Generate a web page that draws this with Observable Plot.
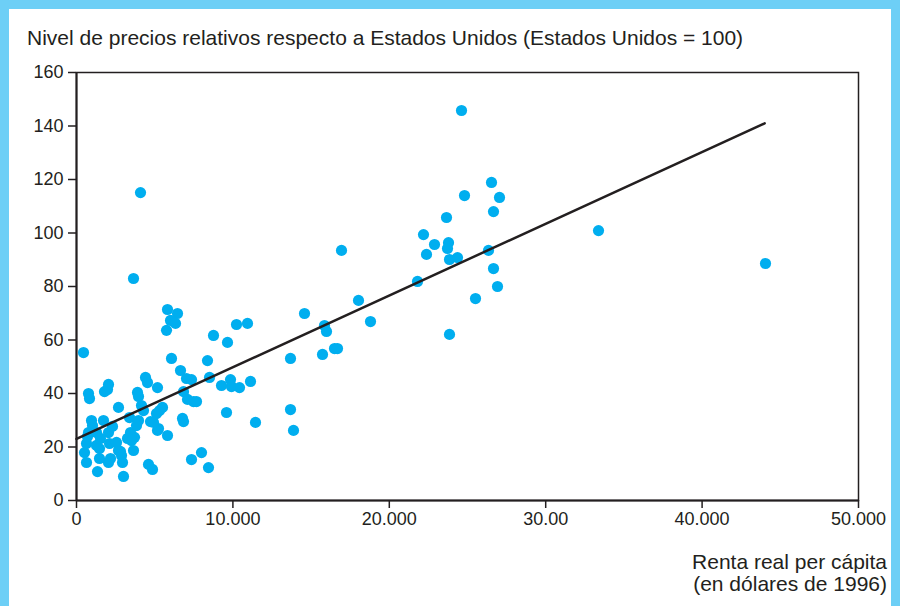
<!DOCTYPE html>
<html>
<head>
<meta charset="utf-8">
<script src="https://cdn.jsdelivr.net/npm/d3@7"></script>
<script src="https://cdn.jsdelivr.net/npm/@observablehq/plot@0.6"></script>
<style>
  html, body { margin: 0; padding: 0; background: #fff; }
  #wrap { position: relative; width: 900px; height: 606px; background: #6dcff6; overflow: hidden;
          font-family: "Liberation Sans", Arial, Helvetica, sans-serif; color: #231f20; }
  #inner { position: absolute; left: 9px; top: 9px; right: 9px; bottom: 0; background: #fff; }
  #title { position: absolute; left: 27px; top: 27px; font-size: 21px; line-height: 21px; white-space: nowrap; }
  #chart { position: absolute; left: 0; top: 0; }
  #xlabel { position: absolute; right: 13px; top: 551px; font-size: 21px; line-height: 22px; text-align: right; white-space: nowrap; }
</style>
</head>
<body>
<div id="wrap">
  <div id="inner"></div>
  <div id="chart"></div>
  <div id="title"></div>
  <div id="xlabel"></div>
</div>
<script>
const titleText = "Nivel de precios relativos respecto a Estados Unidos (Estados Unidos = 100)";
const xLabelLines = ["Renta real per cápita", "(en dólares de 1996)"];

// Real per-capita income (1996 US$)
const income = [
  24617, 26535, 24809, 27047, 26663, 23658, 22187, 22891, 23786, 23722,
  22379, 24361, 23850, 26343, 16944, 26663, 33377, 44055, 26919, 21804,
  25512, 18031, 23850, 18798, 14578, 15857, 15985, 16496, 16688, 15729,
  13683, 10934, 10230, 8760, 9655, 8376, 8504, 11126, 9847, 9911,
  9271, 10422, 13683, 9591, 11445, 13875, 7993, 8440, 7353, 4092,
  3645, 448, 5819, 6458, 6010, 6330, 5755, 6074, 6650, 7033,
  7353, 6842, 7097, 7481, 7673, 6778, 6842, 5179, 4412, 4540,
  1982, 2046, 1790, 767, 831, 2685, 3900, 3964, 4156, 4284,
  5307, 5499, 5115, 4732, 5179, 5819, 3389, 3964, 3453, 3836,
  3709, 3261, 3645, 2813, 2877, 2941, 3005, 4604, 4859, 2046,
  1343, 639, 512, 959, 1726, 767, 1279, 2046, 639, 1279,
  2110, 2558, 1471, 2685, 1471, 2174, 3517, 5243, 4923, 1023,
  1535, 703, 2302
];
// Relative price level (US = 100)
const priceLevel = [
  145.8, 118.9, 114.0, 113.3, 108.0, 105.8, 99.4, 95.7, 96.4, 94.2,
  92.0, 90.8, 90.1, 93.5, 93.5, 86.7, 100.9, 88.6, 80.0, 81.9,
  75.5, 74.8, 62.1, 66.9, 69.9, 65.4, 63.2, 56.8, 56.8, 54.6,
  53.1, 66.2, 65.8, 61.7, 59.1, 52.3, 46.0, 44.5, 45.2, 42.6,
  43.0, 42.2, 34.0, 32.9, 29.2, 26.2, 17.9, 12.3, 15.3, 115.1,
  83.0, 55.3, 71.4, 69.9, 67.3, 66.2, 63.6, 53.1, 48.6, 45.6,
  45.2, 40.7, 37.8, 37.0, 37.0, 30.7, 29.5, 42.2, 46.0, 44.1,
  41.5, 43.4, 40.7, 40.0, 38.1, 34.8, 40.4, 38.9, 35.5, 33.6,
  33.6, 34.8, 32.5, 29.5, 26.2, 24.3, 31.0, 29.9, 25.4, 28.0,
  23.6, 23.2, 18.7, 18.3, 16.8, 14.2, 9.0, 13.5, 11.6, 14.2,
  10.8, 14.2, 17.9, 29.9, 29.9, 25.4, 25.4, 25.4, 21.3, 20.6,
  21.3, 21.7, 19.4, 18.7, 15.7, 15.7, 22.4, 26.9, 29.2, 28.0,
  23.2, 23.9, 27.7
];
// Fitted line endpoints
const fitX = [0, 44000];
const fitY = [23, 141];

const xTicks = [0, 10000, 20000, 30000, 40000, 50000];
const xTickLabels = ["0", "10.000", "20.000", "30.00", "40.000", "50.000"];
const yTicks = [0, 20, 40, 60, 80, 100, 120, 140, 160];

const points = income.map((x, i) => ({x, y: priceLevel[i]}));
const fit = fitX.map((x, i) => ({x, y: fitY[i]}));

const ink = "#231f20";
const chart = Plot.plot({
  width: 900,
  height: 606,
  marginLeft: 76,
  marginRight: 42,
  marginTop: 72,
  marginBottom: 106,
  style: {background: "transparent", color: ink, fontFamily: "'Liberation Sans', Arial, Helvetica, sans-serif", fontSize: "18px"},
  x: {domain: [0, 50000]},
  y: {domain: [0, 160]},
  marks: [
    Plot.frame({stroke: ink, strokeWidth: 1.5}),
    Plot.ruleX([0], {stroke: ink, strokeWidth: 2}),
    Plot.ruleY([0], {stroke: ink, strokeWidth: 2}),
    Plot.axisY({ticks: yTicks, tickSize: 8, tickPadding: 5, fontSize: 18, label: null, stroke: ink, strokeWidth: 1.5}),
    Plot.axisX({ticks: xTicks, tickSize: 8, tickPadding: 4, fontSize: 18, label: null, stroke: ink, strokeWidth: 1.5,
      tickFormat: d => xTickLabels[xTicks.indexOf(d)]}),
    Plot.dot(points, {x: "x", y: "y", r: 5.6, fill: "#00aeef", stroke: "none"}),
    Plot.line(fit, {x: "x", y: "y", stroke: ink, strokeWidth: 2.5})
  ]
});
document.getElementById("chart").appendChild(chart);
document.getElementById("title").textContent = titleText;
const xl = document.getElementById("xlabel");
xLabelLines.forEach(t => { const d = document.createElement("div"); d.textContent = t; xl.appendChild(d); });
</script>
</body>
</html>
